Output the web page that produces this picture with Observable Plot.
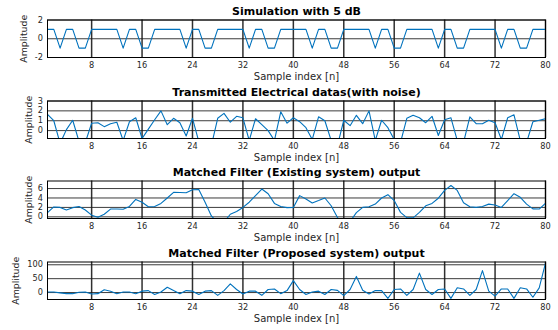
<!DOCTYPE html>
<html>
<head>
<meta charset="utf-8">
<script src="https://cdn.jsdelivr.net/npm/d3@7"></script>
<script src="https://cdn.jsdelivr.net/npm/@observablehq/plot@0.6"></script>
<style>
  html, body { margin: 0; padding: 0; background: #fff; }
  #chart { position: relative; width: 558px; height: 330px; overflow: hidden; background: #fff; }
  #chart svg { position: absolute; left: 0; overflow: visible; }
</style>
</head>
<body>
<div id="chart"></div>
<script>
// ---------------- data ----------------
const titles = [
  "Simulation with 5 dB",
  "Transmitted Electrical datas(with noise)",
  "Matched Filter (Existing system) output",
  "Matched Filter (Proposed system) output"
];
const xLabel = "Sample index [n]";
const yLabel = "Amplitude";
const xTicks = [8, 16, 24, 32, 40, 48, 56, 64, 72, 80];

const simulation = [
  1, 1, -1, 1, 1, -1, -1, 1, 1, 1,
  1, 1, -1, 1, 1, -1, -1, 1, 1, 1,
  1, 1, -1, 1, 1, -1, -1, 1, 1, 1,
  1, 1, -1, 1, 1, -1, -1, 1, 1, 1,
  1, 1, -1, 1, 1, -1, -1, 1, 1, 1,
  1, 1, -1, 1, 1, -1, -1, 1, 1, 1,
  1, 1, -1, 1, 1, -1, -1, 1, 1, 1,
  1, 1, -1, 1, 1, -1, -1, 1, 1, 1
];
const transmitted = [
  1.65, 1.0, -1.3, 0.1, 1.05, -1.1, -1.2, 0.75, 0.8, 0.4,
  0.7, 0.85, -1.0, 0.9, 1.3, -0.8, 0.15, 1.1, 2.0, 0.6,
  1.25, 0.8, -0.55, 1.25, -1.1, -1.2, -1.5, 1.25, 1.75, 0.85,
  1.45, 1.3, -1.0, 1.2, 0.6, 0.0, -1.0, 1.9, 0.75, 1.3,
  0.9, 0.3, -0.9, 1.4, 1.0, -1.0, -1.5, 1.05, 0.5, 1.55,
  0.7, 2.0, -1.0, 1.05, 0.3, -0.9, -1.2, 1.25, 1.55, 1.3,
  0.8, 1.45, -0.5, 1.1, 1.3, -1.0, -1.2, 1.4, 0.7, 0.7,
  1.05, 0.8, -0.9, 1.3, 1.6, -1.0, -1.2, 0.9, 1.05, 1.2
];
const existingOutput = [
  0.9, 2.1, 2.0, 1.45, 1.95, 2.2, 1.45, 0.35, -0.1, 0.55,
  1.65, 1.65, 1.6, 2.2, 3.7, 3.1, 2.15, 2.2, 2.85, 4.0,
  5.2, 5.15, 5.1, 5.75, 5.8, 3.1, 0.2, -1.2, -1.1, 0.55,
  1.15, 2.0, 3.1, 4.5, 5.9, 4.9, 2.85, 2.2, 1.95, 2.0,
  4.5, 3.8, 2.95, 3.45, 4.0, 2.35, -0.15, -1.5, -1.0, 0.9,
  2.0, 2.15, 2.7, 4.0, 4.7, 3.45, 0.95, -0.15, -0.2, 0.95,
  2.35, 2.85, 3.95, 5.6, 6.65, 5.6, 3.0, 2.15, 2.0, 2.2,
  2.7, 2.5, 2.0, 3.45, 4.9, 4.15, 2.7, 1.7, 1.65, 2.85
];
const proposedOutput = [
  2, 2, -1, -4, -4, 1, 2, -5, -4, 10,
  5, -4, 2, 2, -4, 5, 7, -7, 2, 19,
  7, -4, 7, 5, -7, 5, 7, -10, 7, 31,
  11, -5, 5, 5, -10, 11, 13, -4, 7, 43,
  11, -7, 2, 5, -7, 11, 8, -11, 11, 58,
  8, -5, 7, 7, -21, 11, 13, -10, 11, 70,
  11, -7, 11, 13, -21, 17, 13, -10, 11, 79,
  5, -13, 13, 13, -21, 17, 13, -17, 17, 106
];

const yTicks1 = [-2, 0, 2];
const yTicks2 = [0, 1, 2, 3];
const yTicks3 = [0, 2, 4, 6];
const yTicks4 = [0, 50, 100];

const yDomain1 = [-2, 2];
const yDomain2 = [-0.8, 3];
const yDomain3 = [-0.35, 7.6];
const yDomain4 = [-25, 110];

// ---------------- layout ----------------
const panels = [
  {title: titles[0], values: simulation, ticks: yTicks1, domain: yDomain1, top: 0, labelX: 23.8},
  {title: titles[1], values: transmitted, ticks: yTicks2, domain: yDomain2, top: 80.5, labelX: 28.7},
  {title: titles[2], values: existingOutput, ticks: yTicks3, domain: yDomain3, top: 161, labelX: 28.7},
  {title: titles[3], values: proposedOutput, ticks: yTicks4, domain: yDomain4, top: 241.5, labelX: 15.5}
];

const W = 558, ML = 47, MR = 13, MT = 19.5, FH = 37.5, MB = 30;
const font = "'DejaVu Sans', 'Liberation Sans', sans-serif";
const chart = document.getElementById("chart");

for (const p of panels) {
  const svg = Plot.plot({
    width: W,
    height: MT + FH + MB,
    marginLeft: ML,
    marginRight: MR,
    marginTop: MT,
    marginBottom: MB,
    style: {background: "transparent", fontFamily: font, fontSize: "8.2px", color: "#262626", overflow: "visible"},
    x: {domain: [1, 80]},
    y: {domain: p.domain},
    marks: [
      Plot.gridX(xTicks, {stroke: "#1a1a1a", strokeOpacity: 0.9, strokeWidth: 1.5}),
      Plot.gridY(p.ticks, {stroke: "#1a1a1a", strokeOpacity: 0.85, strokeWidth: 1}),
      Plot.line(p.values, {x: (d, i) => i + 1, y: d => d, stroke: "#0072BD", strokeWidth: 1.1, clip: true}),
      Plot.frame({stroke: "#000", strokeWidth: 1}),
      Plot.axisX(xTicks, {tickSize: 0, tickPadding: 5, label: null, tickFormat: d => String(d), fill: "#262626"}),
      Plot.axisY(p.ticks, {tickSize: 0, tickPadding: 4.5, label: null, tickFormat: d => String(d), fill: "#262626"}),
      Plot.text([p.title], {text: d => d, frameAnchor: "top", dy: -5, lineAnchor: "bottom", fontWeight: "bold", fontSize: 11, fill: "#000"}),
      Plot.text([xLabel], {text: d => d, frameAnchor: "bottom", dy: 22.8, lineAnchor: "bottom", fontSize: 10, fill: "#262626"}),
      Plot.text([yLabel], {text: d => d, frameAnchor: "left", dx: p.labelX - ML, rotate: -90, lineAnchor: "middle", textAnchor: "middle", fontSize: 9.4, fill: "#262626"})
    ]
  });
  svg.style.top = p.top + "px";
  chart.appendChild(svg);
}
</script>
</body>
</html>
